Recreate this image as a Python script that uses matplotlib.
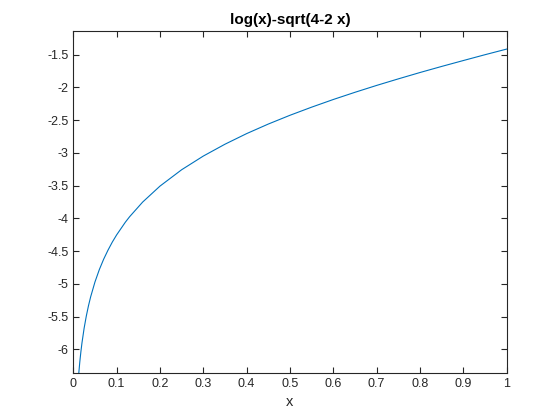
import matplotlib.pyplot as plt

# values
x = [0.01, 0.0125, 0.015, 0.0175, 0.02, 0.025, 0.03, 0.035, 0.04, 0.05,
     0.06, 0.07, 0.08, 0.09, 0.1, 0.12, 0.13, 0.16, 0.2, 0.25,
     0.3, 0.35, 0.4, 0.45, 0.5, 0.55, 0.6, 0.65, 0.7, 0.75,
     0.8, 0.85, 0.9, 0.95, 1.0]
y = [-6.600, -6.376, -6.192, -6.037, -5.902, -5.676, -5.492, -5.335, -5.199, -4.971,
     -4.783, -4.624, -4.486, -4.362, -4.252, -4.059, -3.974, -3.751, -3.507, -3.257,
     -3.048, -2.867, -2.705, -2.559, -2.425, -2.301, -2.184, -2.074, -1.969, -1.869,
     -1.772, -1.679, -1.589, -1.500, -1.414]

xticks = [0, 0.1, 0.2, 0.3, 0.4, 0.5, 0.6, 0.7, 0.8, 0.9, 1]
xtick_labels = ["0", "0.1", "0.2", "0.3", "0.4", "0.5", "0.6", "0.7", "0.8", "0.9", "1"]
yticks = [-6, -5.5, -5, -4.5, -4, -3.5, -3, -2.5, -2, -1.5]
ytick_labels = ["-6", "-5.5", "-5", "-4.5", "-4", "-3.5", "-3", "-2.5", "-2", "-1.5"]


def main():
    plt.rcParams['font.family'] = ['Liberation Sans', 'DejaVu Sans']
    fig = plt.figure(figsize=(5.6, 4.2), dpi=100)
    ax = fig.add_axes([73.3 / 560, 1 - 372.7 / 420, (506.7 - 73.3) / 560, (372.7 - 31) / 420])

    ax.plot(x, y, color='#0072BD', linewidth=0.8)

    ax.set_xlim(0, 1)
    ax.set_ylim(-6.357, -1.138)
    ax.set_xticks(xticks)
    ax.set_xticklabels(xtick_labels)
    ax.set_yticks(yticks)
    ax.set_yticklabels(ytick_labels)

    dark = '#262626'
    for s in ax.spines.values():
        s.set_color(dark)
        s.set_linewidth(0.8)
    ax.tick_params(direction='in', top=True, right=True, length=4, width=0.8,
                   color=dark, labelcolor=dark, labelsize=9)

    ax.set_xlabel('x', fontsize=10.5, color=dark)
    ax.set_title('log(x)-sqrt(4-2 x)', fontsize=11, fontweight='bold', color='black', pad=5)

    fig.savefig('out.png', dpi=100)


if __name__ == "__main__":
    main()
